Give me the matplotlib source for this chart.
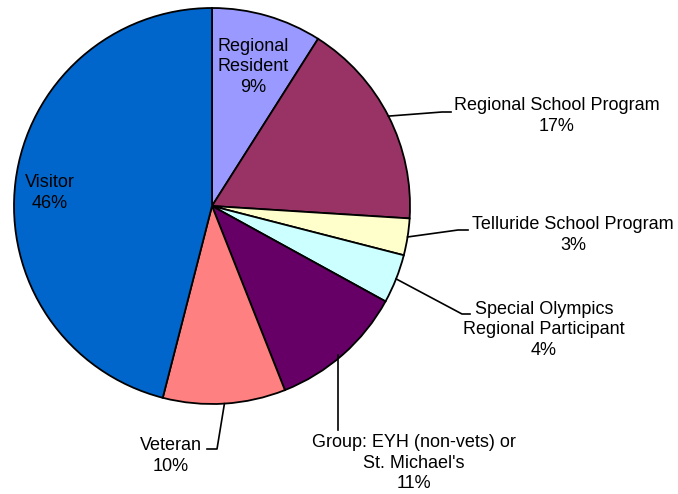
import numpy as np
import matplotlib
matplotlib.use("Agg")
import matplotlib.pyplot as plt

categories = ["Regional Resident", "Regional School Program", "Telluride School Program",
              "Special Olympics Regional Participant", "Group: EYH (non-vets) or St. Michael's",
              "Veteran", "Visitor"]
label_text = ["Regional\nResident", "Regional School Program", "Telluride School Program",
              "Special Olympics\nRegional Participant", "Group: EYH (non-vets) or\nSt. Michael's",
              "Veteran", "Visitor"]
values = [9, 17, 3, 4, 11, 10, 46]
colors = ["#9999FF", "#993366", "#FFFFCC", "#CCFFFF", "#660066", "#FF8080", "#0066CC"]

W, H = 678, 494
CX, CY, R = 212, 206, 198

fig = plt.figure(figsize=(W / 100, H / 100), dpi=100)
ax = fig.add_axes([0, 0, 1, 1])
wedges, _ = ax.pie(values, colors=colors, startangle=90, counterclock=False,
                   center=(CX, H - CY), radius=R,
                   wedgeprops=dict(edgecolor="black", linewidth=1.3))
ax.set_xlim(0, W)
ax.set_ylim(0, H)
ax.set_aspect("equal")
ax.axis("off")

font = dict(family=["Liberation Sans", "DejaVu Sans"], fontsize=13, color="black")
LS = 1.28
total = sum(values)
pcts = [f"{round(v / total * 100):d}%" for v in values]

def P(x, y):
    return (x, H - y)

def edge_point(i, frac=1.0):
    w = wedges[i]
    ang = np.deg2rad((w.theta1 + w.theta2) / 2)
    return (CX + R * frac * np.cos(ang), H - CY + R * frac * np.sin(ang))

# Inside labels
ax.text(*P(253, 67), f"{label_text[0]}\n{pcts[0]}", ha="center", va="center",
        linespacing=LS, **font)
ax.text(*P(50, 193), f"{label_text[6]}\n{pcts[6]}", ha="center", va="center",
        linespacing=LS, **font)

# Outside labels with leader lines: (index, text center, leader bend, leader end)
outside = [
    (1, (557, 116), (442, 112), (451, 112)),
    (2, (573, 235), (458, 230), (468, 230)),
    (3, (544, 330), (462, 314), (470, 314)),
    (4, (414, 463), (338, 363), (338, 430)),
    (5, (171, 456), (217, 449), (207, 449)),
]
for i, tc, bend, end in outside:
    sx, sy = edge_point(i)
    if i == 4:
        ax.plot([bend[0], end[0]], [sy, H - end[1]], color="black", lw=1.2)
    else:
        ax.plot([sx, bend[0], end[0]], [sy, H - bend[1], H - end[1]], color="black", lw=1.2)
    ax.text(*P(*tc), f"{label_text[i]}\n{pcts[i]}", ha="center", va="center",
            linespacing=LS, **font)

fig.savefig("out.png", dpi=100, facecolor="white")
